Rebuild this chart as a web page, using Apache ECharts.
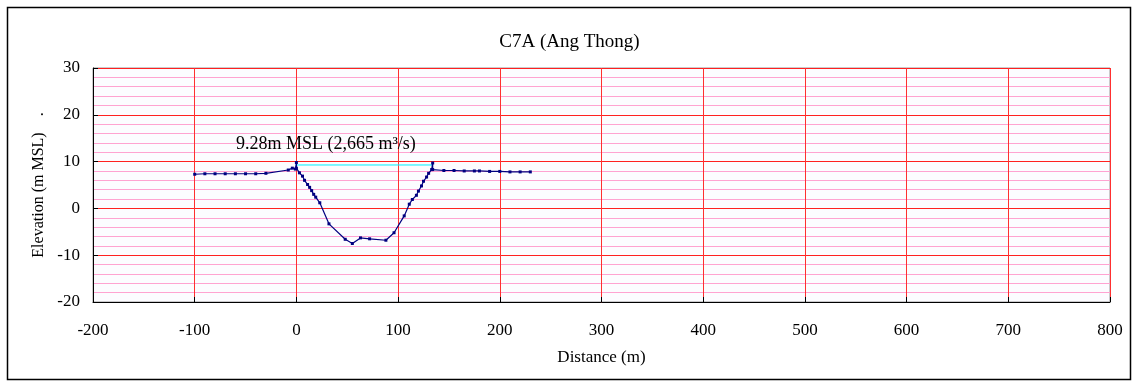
<!DOCTYPE html>
<html>
<head>
<meta charset="utf-8">
<title>C7A (Ang Thong)</title>
<script src="https://cdn.jsdelivr.net/npm/echarts@6/dist/echarts.min.js"></script>
<style>
  html, body { margin: 0; padding: 0; background: #fff; }
  #chart { width: 1139px; height: 387px; }
</style>
</head>
<body>
<div id="chart"></div>
<script>
// Surveyed cross-section, distance (m) and bed elevation (m MSL)
const distance = [-100, -90, -80, -70, -60, -50, -40, -30, -8, -4, -1, 0, 0, 3, 6, 8, 11, 13, 15, 17, 19, 23, 32, 48, 55, 63, 72, 88, 96, 106, 111, 114, 118, 120, 123, 125, 128, 130, 133, 134, 134, 145, 155, 165, 175, 180, 190, 200, 210, 220, 230];
const elevation = [7.3, 7.4, 7.4, 7.4, 7.4, 7.4, 7.4, 7.5, 8.2, 8.6, 8.4, 9.8, 8.6, 7.6, 6.9, 6.0, 5.1, 4.5, 3.8, 3.0, 2.4, 1.2, -3.3, -6.6, -7.5, -6.3, -6.5, -6.8, -5.2, -1.6, 0.9, 1.9, 2.8, 3.7, 4.8, 5.8, 6.7, 7.5, 8.3, 9.7, 8.3, 8.1, 8.1, 8.0, 8.0, 8.0, 7.9, 7.9, 7.8, 7.8, 7.8];

// Water surface between the banks
const waterLevel = 9.28;
const waterExtent = [0, 134];
const waterLabel = '9.28m MSL (2,665 m\u00B3/s)';
const waterLabelAt = [29, 13.7];

// Axis ranges and tick spacing
const xRange = [-200, 800], xStep = 100;
const yRange = [-20, 30], yStep = 10;

const profile = distance.map((d, i) => [d, elevation[i]]);
const water = waterExtent.map(d => [d, waterLevel]);

const serif = '"Liberation Serif", "Times New Roman", serif';
const chart = echarts.init(document.getElementById('chart'), null, { renderer: 'canvas' });

chart.setOption({
  animation: false,
  backgroundColor: '#ffffff',
  title: {
    text: 'C7A (Ang Thong)',
    left: 'center',
    top: 28,
    textStyle: { fontFamily: serif, fontSize: 19, fontWeight: 'normal', color: '#000' }
  },
  graphic: [{
    type: 'rect',
    shape: { x: 7.5, y: 7.5, width: 1123, height: 372 },
    style: { fill: 'none', stroke: '#000', lineWidth: 1.5 },
    silent: true,
    z: 100
  }],
  grid: {
    left: 93, right: 29, top: 68, bottom: 85,
    show: true,
    backgroundColor: '#fcfcff',
    borderColor: '#999',
    borderWidth: 1
  },
  xAxis: {
    type: 'value',
    min: xRange[0], max: xRange[1], interval: xStep,
    name: 'Distance (m)',
    nameLocation: 'middle',
    nameGap: 47,
    nameTextStyle: { fontFamily: serif, fontSize: 17, color: '#000' },
    axisLine: { show: true, onZero: false, lineStyle: { color: '#000', width: 1 } },
    axisTick: { show: true, inside: true, length: 5, lineStyle: { color: '#000' } },
    axisLabel: { fontFamily: serif, fontSize: 17, color: '#000', margin: 20 },
    splitLine: { show: true, lineStyle: { color: '#ff3030', width: 1 } }
  },
  yAxis: {
    type: 'value',
    min: yRange[0], max: yRange[1], interval: yStep,
    name: 'Elevation (m MSL)    .',
    nameLocation: 'middle',
    nameGap: 45,
    nameTextStyle: { fontFamily: serif, fontSize: 16, color: '#000' },
    axisLine: { show: true, onZero: false, lineStyle: { color: '#000', width: 1 } },
    axisTick: { show: true, inside: true, length: 5, lineStyle: { color: '#000' } },
    axisLabel: { fontFamily: serif, fontSize: 17, color: '#000', margin: 13 },
    splitLine: { show: true, lineStyle: { color: '#ff2020', width: 1 } },
    minorTick: { show: false, splitNumber: 5 },
    minorSplitLine: { show: true, lineStyle: { color: '#ffa3d1', width: 1 } }
  },
  series: [
    {
      name: 'Water level',
      type: 'line',
      data: water,
      symbol: 'none',
      lineStyle: { color: '#00f0ff', width: 1 },
      z: 3,
      markPoint: {
        symbol: 'circle',
        symbolSize: 0,
        data: [{ coord: waterLabelAt }],
        label: {
          show: true,
          position: 'inside',
          formatter: waterLabel,
          fontFamily: serif,
          fontSize: 18,
          color: '#000'
        }
      }
    },
    {
      name: 'Cross-section',
      type: 'line',
      data: profile,
      symbol: 'rect',
      symbolSize: 3,
      itemStyle: { color: '#000080' },
      lineStyle: { color: '#000080', width: 1.2 },
      z: 4
    }
  ]
});
</script>
</body>
</html>
